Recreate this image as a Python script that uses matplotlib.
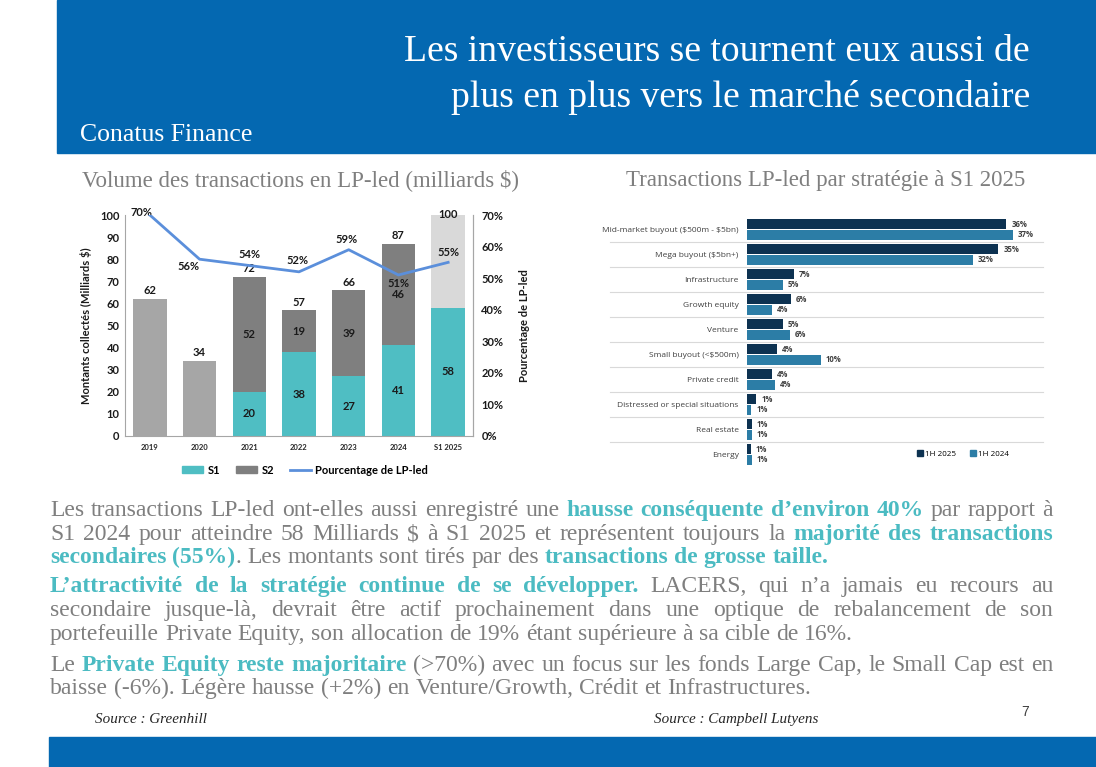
import matplotlib
matplotlib.use('Agg')
import matplotlib.pyplot as plt
from matplotlib.patches import Rectangle, Patch
from matplotlib.lines import Line2D
import matplotlib.ticker as mticker
import numpy as np

plt.rcParams['text.parse_math'] = False

# ---------------- data ----------------
years = ['2019', '2020', '2021', '2022', '2023', '2024', 'S1 2025']
totals = [62, 34, 72, 57, 66, 87, 100]
s1 = [0, 0, 20, 38, 27, 41, 58]
s2 = [0, 0, 52, 19, 39, 46, 0]
pct_lp = [70, 56, 54, 52, 59, 51, 55]

strategies = ['Mid-market buyout ($500m - $5bn)', 'Mega buyout ($5bn+)', 'Infrastructure',
              'Growth equity', 'Venture', 'Small buyout (<$500m)', 'Private credit',
              'Distressed or special situations', 'Real estate', 'Energy']
h1_2025 = [36.1, 35.0, 6.5, 6.1, 5.0, 4.2, 3.5, 1.3, 0.7, 0.5]
h1_2024 = [37.0, 31.4, 5.0, 3.5, 6.0, 10.3, 3.9, 0.6, 0.7, 0.7]
lab_2025 = [36, 35, 7, 6, 5, 4, 4, 1, 1, 1]
lab_2024 = [37, 32, 5, 4, 6, 10, 4, 1, 1, 1]

title_lines = ['Les investisseurs se tournent eux aussi de',
               'plus en plus vers le marché secondaire']
brand = 'Conatus Finance'
sub_left = 'Volume des transactions en LP-led (milliards $)'
sub_right = 'Transactions LP-led par stratégie à S1 2025'

N, T = 'n', 't'   # normal / teal-bold
paragraphs = [
    [[("Les transactions LP-led ont-elles aussi enregistré une ", N), ("hausse conséquente d’environ 40%", T), (" par rapport à", N)],
     [("S1 2024 pour atteindre 58 Milliards $ à S1 2025 et représentent toujours la ", N), ("majorité des transactions", T)],
     [("secondaires (55%)", T), (". Les montants sont tirés par des ", N), ("transactions de grosse taille.", T)]],
    [[("L’attractivité de la stratégie continue de se développer.", T), (" LACERS, qui n’a jamais eu recours au", N)],
     [("secondaire jusque-là, devrait être actif prochainement dans une optique de rebalancement de son", N)],
     [("portefeuille Private Equity, son allocation de 19% étant supérieure à sa cible de 16%.", N)]],
    [[("Le ", N), ("Private Equity reste majoritaire", T), (" (>70%) avec un focus sur les fonds Large Cap, le Small Cap est en", N)],
     [("baisse (-6%). Légère hausse (+2%) en Venture/Growth, Crédit et Infrastructures.", N)]],
]
src_left = 'Source : Greenhill'
src_right = 'Source : Campbell Lutyens'
page = '7'

# ---------------- style ----------------
W, H = 1096, 767
BLUE = '#0468B1'
TEAL = '#4FBEC3'
S2C = '#7F7F7F'
OLDC = '#A6A6A6'
RESTC = '#D9D9D9'
LINEC = '#5B8FDB'
NAVY = '#0D3251'
MIDB = '#2C7DA6'
GRAYTXT = '#7F7F7F'
TEALTXT = '#4BBBC2'
SERIF = 'Liberation Serif'
SANS = 'Lato'
SANS2 = 'Open Sans'

fig = plt.figure(figsize=(W / 100, H / 100), dpi=100)
fig.patch.set_facecolor('white')
renderer = fig.canvas.get_renderer()


def fx(x):
    return x / W


def fy(y):
    return 1 - y / H


def text_width(s, **kw):
    t = fig.text(0, 0, s, **kw)
    w = t.get_window_extent(renderer).width
    t.remove()
    return w


def fit_size(s, target, base=20, **kw):
    return base * target / text_width(s, fontsize=base, **kw)


# bands
fig.patches.append(Rectangle((fx(57), fy(153)), 1 - fx(57), fy(0) - fy(153),
                             transform=fig.transFigure, color=BLUE, zorder=0))
fig.patches.append(Rectangle((fx(49), 0), 1 - fx(49), fy(737),
                             transform=fig.transFigure, color=BLUE, zorder=0))

# titles
ts = fit_size(title_lines[0], 625, family=SERIF)
fig.text(fx(1030), fy(61), title_lines[0], ha='right', va='baseline', fontsize=ts,
         family=SERIF, color='white')
fig.text(fx(1030), fy(107), title_lines[1], ha='right', va='baseline', fontsize=ts,
         family=SERIF, color='white')
bs = fit_size(brand, 172, family=SERIF)
fig.text(fx(80), fy(141), brand, ha='left', va='baseline', fontsize=bs, family=SERIF, color='white')

ss = fit_size(sub_left, 438, family=SERIF)
fig.text(fx(301), fy(186), sub_left, ha='center', va='baseline', fontsize=ss, family=SERIF, color=GRAYTXT)
fig.text(fx(826), fy(186), sub_right, ha='center', va='baseline', fontsize=ss, family=SERIF, color=GRAYTXT)

# ---------------- left chart ----------------
ax1 = fig.add_axes([fx(125), fy(436), (473 - 125) / W, (436 - 215) / H])
x = np.arange(len(years))
bw = 0.67
old = [t if (a == 0 and b == 0) else 0 for t, a, b in zip(totals, s1, s2)]
rest = [t - a - b if (a > 0 and b == 0) else 0 for t, a, b in zip(totals, s1, s2)]
ax1.bar(x, old, bw, color=OLDC, zorder=2)
ax1.bar(x, s1, bw, color=TEAL, zorder=2)
ax1.bar(x, s2, bw, bottom=s1, color=S2C, zorder=2)
ax1.bar(x, rest, bw, bottom=s1, color=RESTC, zorder=2)
ax1.set_xlim(-0.5, len(years) - 0.5)
ax1.set_ylim(0, 100)
ax1.set_yticks(np.arange(0, 101, 10))
ax1.set_xticks(x)
ax1.set_xticklabels(years, fontsize=5.5, family=SANS, weight='bold', color='#262626')
ax1.tick_params(axis='both', length=0)
ax1.tick_params(axis='y', labelsize=8, pad=4)
ax1.tick_params(axis='x', pad=6)
for lab in ax1.get_yticklabels():
    lab.set_fontfamily(SANS); lab.set_fontweight('bold'); lab.set_color('#1a1a1a')
ax1.spines['top'].set_visible(False)
for sp in ['left', 'right', 'bottom']:
    ax1.spines[sp].set_color('#A6A6A6')
ax1.set_ylabel('Montants collectés (Milliards $)', fontsize=8, family=SANS, weight='bold',
               color='#1a1a1a', labelpad=6)

lblkw = dict(fontsize=8, family=SANS, weight='bold', color='#1a1a1a', ha='center', va='center', zorder=5)
for i in range(len(years)):
    if totals[i] >= 100:
        ax1.text(x[i], totals[i], str(totals[i]), **lblkw)
    else:
        ax1.annotate(str(totals[i]), (x[i], totals[i]), xytext=(0, 8), textcoords='offset pixels', **lblkw)
    if s1[i] > 0:
        ax1.text(x[i], s1[i] / 2, str(s1[i]), **lblkw)
    if s2[i] > 0:
        ax1.text(x[i], s1[i] + s2[i] / 2, str(s2[i]), **lblkw)

ax1b = ax1.twinx()
ax1b.set_ylim(0, 70)
ax1b.set_yticks(np.arange(0, 71, 10))
ax1b.yaxis.set_major_formatter(mticker.FuncFormatter(lambda v, p: f'{v:.0f}%'))
ax1b.tick_params(axis='y', length=0, labelsize=8, pad=6)
for lab in ax1b.get_yticklabels():
    lab.set_fontfamily(SANS); lab.set_fontweight('bold'); lab.set_color('#1a1a1a')
for sp in ['top', 'left', 'bottom']:
    ax1b.spines[sp].set_visible(False)
ax1b.spines['right'].set_color('#A6A6A6')
ax1b.plot(x, pct_lp, color=LINEC, lw=2, zorder=4)
ax1b.set_ylabel('Pourcentage de LP-led', fontsize=8, family=SANS, weight='bold',
                color='#1a1a1a', labelpad=11)
offs = [(-8, 2), (-11, -7), (0, 11), (-2, 11), (-2, 10), (0, -9), (0, 10)]
for i, v in enumerate(pct_lp):
    ax1b.annotate(f'{v}%', (x[i], v), xytext=(offs[i][0], offs[i][1]), textcoords='offset pixels',
                  ha='center', va='center', fontsize=8, family=SANS, weight='bold', color='#1a1a1a',
                  annotation_clip=False)

handles = [Patch(color=TEAL, label='S1'), Patch(color=S2C, label='S2'),
           Line2D([], [], color=LINEC, lw=2, label='Pourcentage de LP-led')]
fig.legend(handles=handles, loc='center', bbox_to_anchor=(fx(305), fy(470)), ncol=3, frameon=False,
           prop={'family': SANS, 'size': 8, 'weight': 'bold'}, handlelength=1.9, handleheight=0.55,
           columnspacing=1.4, handletextpad=0.4)

# ---------------- right chart ----------------
ax2 = fig.add_axes([fx(747), fy(467), (1043 - 747) / W, (467 - 217) / H])
rows = np.arange(len(strategies))
ax2.barh(rows + 0.29, h1_2025, 0.4, color=NAVY, zorder=2)
ax2.barh(rows + 0.71, h1_2024, 0.4, color=MIDB, zorder=2)
ax2.set_ylim(len(strategies), 0)
ax2.set_xlim(0, 41.2)
ax2.set_yticks(rows + 0.5)
ax2.set_yticklabels(strategies, fontsize=6, family=SANS2, color='#404040')
ax2.set_xticks([])
ax2.tick_params(axis='y', length=0, pad=6)
for sp in ax2.spines.values():
    sp.set_visible(False)
for r in rows[1:]:
    ax2.axhline(r, xmin=(610 - 747) / 296, xmax=1, color='#D9D9D9', lw=0.8, clip_on=False, zorder=1)
vk = dict(fontsize=5.6, family=SANS2, weight='bold', color='#404040', va='center', ha='left')
for i in rows:
    ax2.annotate(f'{lab_2025[i]}%', (h1_2025[i], i + 0.29), xytext=(5, 0), textcoords='offset pixels', **vk)
    ax2.annotate(f'{lab_2024[i]}%', (h1_2024[i], i + 0.71), xytext=(5, 0), textcoords='offset pixels', **vk)
h2 = [Line2D([], [], marker='s', ls='none', color=NAVY, markersize=4, label='1H 2025'),
      Line2D([], [], marker='s', ls='none', color=MIDB, markersize=4, label='1H 2024')]
fig.legend(handles=h2, loc='center', bbox_to_anchor=(fx(963), fy(454)), ncol=2, frameon=False,
           prop={'family': SANS2, 'size': 5.8}, handlelength=0.6, handletextpad=0.3, columnspacing=1.8)

# ---------------- body text ----------------
X0, X1 = 50, 1053
line_y = [[511, 535, 558], [587, 611, 635], [666, 689]]


def style_kw(st, size):
    if st == T:
        return dict(fontsize=size, family=SERIF, weight='bold', color=TEALTXT)
    return dict(fontsize=size, family=SERIF, weight='normal', color=GRAYTXT)


def tokenize(segs):
    toks = []
    pending = False
    for txt, st in segs:
        parts = txt.split(' ')
        for k, p in enumerate(parts):
            if k > 0:
                pending = True
            if p:
                toks.append((p, st, pending and len(toks) > 0))
                pending = False
    return toks


def natural_width(toks, size):
    sw = text_width('x x', fontsize=size, family=SERIF) - 2 * text_width('x', fontsize=size, family=SERIF)
    w = sum(text_width(p, **style_kw(st, size)) for p, st, g in toks)
    ng = sum(1 for p, st, g in toks if g)
    return w, ng, sw


base = 14
maxw = 0
for para in paragraphs:
    for li, segs in enumerate(para):
        if li < len(para) - 1:
            w, ng, sw = natural_width(tokenize(segs), base)
            maxw = max(maxw, w + ng * sw)
body_size = base * (X1 - X0) * 0.995 / maxw

for pi, para in enumerate(paragraphs):
    for li, segs in enumerate(para):
        toks = tokenize(segs)
        w, ng, sw = natural_width(toks, body_size)
        justify = li < len(para) - 1
        gap = sw + ((X1 - X0) - w - ng * sw) / ng if (justify and ng) else sw
        xpos = X0
        yb = line_y[pi][li] + 5
        for p, st, g in toks:
            if g:
                xpos += gap
            kw = style_kw(st, body_size)
            fig.text(fx(xpos), fy(yb), p, ha='left', va='baseline', **kw)
            xpos += text_width(p, **kw)

# sources and page number
srs = fit_size(src_left, 112, family=SERIF, style='italic')
fig.text(fx(95), fy(723), src_left, ha='left', va='baseline', fontsize=srs, family=SERIF,
         style='italic', color='#262626')
fig.text(fx(654), fy(723), src_right, ha='left', va='baseline', fontsize=srs, family=SERIF,
         style='italic', color='#262626')
fig.text(fx(1025), fy(712), page, ha='center', va='center', fontsize=10, family='Liberation Sans',
         color='#404040')

fig.savefig('out.png', dpi=100, facecolor='white')
